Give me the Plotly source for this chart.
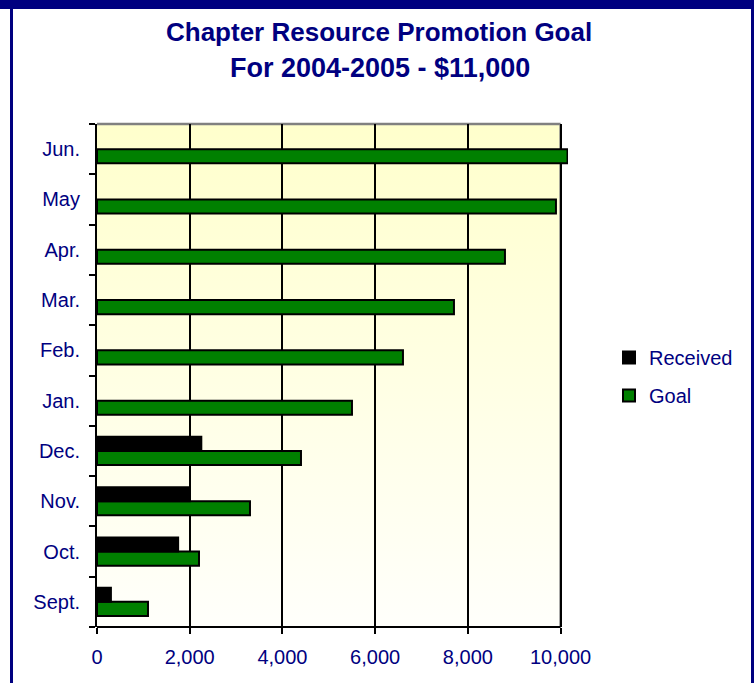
import base64
import plotly.graph_objects as go

months = ["Sept.", "Oct.", "Nov.", "Dec.", "Jan.", "Feb.", "Mar.", "Apr.", "May", "Jun."]
goal = [1100, 2200, 3300, 4400, 5500, 6600, 7700, 8800, 9900, 10150]
received = [300, 1750, 2000, 2250, None, None, None, None, None, None]
x_ticks = [0, 2000, 4000, 6000, 8000, 10000]
x_tick_labels = ["0", "2,000", "4,000", "6,000", "8,000", "10,000"]

W, H = 754, 683
L, R, T, B = 97, 568, 124, 627
XMAX = 10160
PW, PH = R - L, B - T

def px(x):
    return (x - L) / PW

def py(y):
    return (B - y) / PH

NAVY = "#000080"
FONT = "Liberation Sans, Arial, sans-serif"

svg = ('<svg xmlns="http://www.w3.org/2000/svg" width="100" height="100" preserveAspectRatio="none">'
       '<defs><linearGradient id="g" x1="0" y1="0" x2="0" y2="1">'
       '<stop offset="0" stop-color="#FFFFCC"/><stop offset="1" stop-color="#FFFFFB"/>'
       '</linearGradient></defs><rect width="100" height="100" fill="url(#g)"/></svg>')
grad_src = "data:image/svg+xml;base64," + base64.b64encode(svg.encode()).decode()

fig = go.Figure()
fig.add_trace(go.Bar(
    y=months, x=goal, name="Goal", orientation="h",
    marker=dict(color="#008000", line=dict(color="black", width=2)),
    legendrank=2, legendgroup="goal",
))
fig.add_trace(go.Bar(
    y=months, x=received, name="Received", orientation="h",
    marker=dict(color="black", line=dict(color="black", width=2)),
    legendrank=1, legendgroup="received",
))

shapes = [
    # outer navy frame
    dict(type="rect", xref="paper", yref="paper", x0=px(0), x1=px(W), y0=py(0), y1=py(9),
         fillcolor=NAVY, line=dict(width=0), layer="above"),
    dict(type="rect", xref="paper", yref="paper", x0=px(10), x1=px(13), y0=py(H), y1=py(0),
         fillcolor=NAVY, line=dict(width=0), layer="above"),
    dict(type="rect", xref="paper", yref="paper", x0=px(751), x1=px(W), y0=py(H), y1=py(0),
         fillcolor=NAVY, line=dict(width=0), layer="above"),
    # grey top/right plot edges
    dict(type="line", xref="x", yref="paper", x0=0, x1=10000, y0=1, y1=1,
         line=dict(color="#808080", width=2.5), layer="between"),
    dict(type="line", xref="x", yref="paper", x0=10000, x1=10000, y0=0, y1=1,
         line=dict(color="#808080", width=2.5), layer="between"),
    # bottom axis line
    dict(type="line", xref="x", yref="paper", x0=0, x1=10000, y0=0, y1=0,
         line=dict(color="black", width=2), layer="between"),
]

fig.update_layout(
    width=W, height=H,
    autosize=False,
    margin=dict(l=L, r=W - R, t=T, b=H - B, autoexpand=False),
    paper_bgcolor="white",
    plot_bgcolor="rgba(0,0,0,0)",
    barmode="group",
    bargap=0.44,
    bargroupgap=0,
    font=dict(family=FONT, size=20, color=NAVY),
    showlegend=True,
    legend=dict(
        x=px(609), y=py(338), xanchor="left", yanchor="top",
        traceorder="grouped", tracegroupgap=9,
        font=dict(family=FONT, size=20, color=NAVY),
        bgcolor="rgba(0,0,0,0)",
    ),
    xaxis=dict(
        range=[0, XMAX], tickvals=x_ticks, ticktext=x_tick_labels,
        showgrid=True, gridcolor="black", gridwidth=2,
        showline=False,
        ticks="outside", ticklen=6, tickcolor="black", tickwidth=2,
        zeroline=False, fixedrange=True,
        tickfont=dict(family=FONT, size=20, color=NAVY),
        ticklabelstandoff=6,
    ),
    yaxis=dict(
        type="category", categoryorder="array", categoryarray=months,
        range=[-0.5, 9.5],
        showgrid=False, showline=True, linecolor="black", linewidth=2,
        ticks="outside", ticklen=6, tickcolor="black", tickwidth=2,
        tickson="boundaries", fixedrange=True,
        tickfont=dict(family=FONT, size=20, color=NAVY),
        ticklabelstandoff=11,
    ),
    images=[dict(source=grad_src, xref="x", yref="paper", x=0, y=1,
                 sizex=10000, sizey=1, xanchor="left", yanchor="top",
                 sizing="stretch", layer="below")],
    shapes=shapes,
    annotations=[
        dict(text="<b>Chapter Resource Promotion Goal</b>", xref="paper", yref="paper",
             x=px(379), y=py(32), xanchor="center", yanchor="middle", showarrow=False,
             font=dict(family=FONT, size=26, color=NAVY)),
        dict(text="<b>For 2004-2005 - $11,000</b>", xref="paper", yref="paper",
             x=px(380), y=py(68), xanchor="center", yanchor="middle", showarrow=False,
             font=dict(family=FONT, size=27, color=NAVY)),
    ],
)

fig.write_html("out.html", config={"displayModeBar": False},
               post_script="document.body.style.margin='0';document.body.style.overflow='hidden';")
